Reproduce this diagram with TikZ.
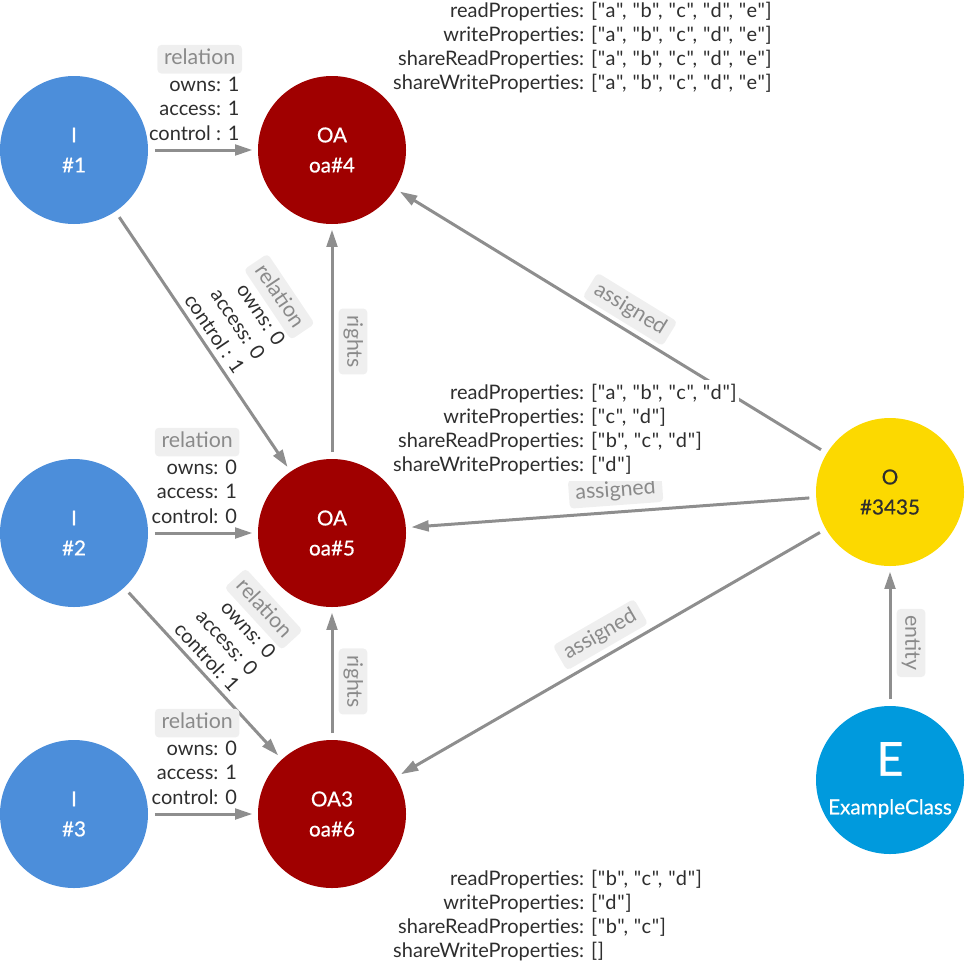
\documentclass[tikz,border=0pt]{standalone}
\usepackage{fontspec}
\usepackage{array}
\setmainfont{Lato}[Ligatures=TeXOff]
\usetikzlibrary{arrows.meta}
\definecolor{iblue}{HTML}{4C8EDA}
\definecolor{oared}{HTML}{A00000}
\definecolor{oyel}{HTML}{FCD900}
\definecolor{eblue}{HTML}{009ADD}
\definecolor{egray}{HTML}{8E8E8E}
\definecolor{rfill}{HTML}{EFEFEF}
\definecolor{rtext}{HTML}{8A8A8A}
\definecolor{ltext}{HTML}{2E2E2E}
\newcolumntype{V}{>{\addfontfeature{LetterSpace=3.5}}l}
\begin{document}
\begin{tikzpicture}[x=0.75pt,y=-0.75pt,
 circ/.style={circle,inner sep=0pt,minimum size=111pt,align=center,font=\fontsize{15.5}{22.5}\selectfont\addfontfeature{FakeBold=0.6}},
 inode/.style={circ,fill=iblue,text=white},
 oanode/.style={circ,fill=oared,text=white},
 arr/.style={draw=egray,line width=2.25pt,-{Triangle[length=13pt,width=8pt]},shorten <=5pt,shorten >=4pt},
 lbl/.style={text=ltext,align=right,inner sep=1pt,font=\fontsize{15}{18.5}\selectfont},
 rbox/.style={fill=rfill,text=rtext,rounded corners=3pt,inner xsep=5pt,inner ysep=3.5pt,text height=11.5pt,text depth=3pt,font=\fontsize{16}{18}\selectfont},
 prop/.style={anchor=base west,inner sep=2pt,fill=white,text=ltext,font=\fontsize{15}{18}\selectfont}]

\path[use as bounding box] (0,0) rectangle (966,964);

\node[inode] (i1) at (74,150) {I\\\#1};
\node[inode] (i2) at (74,533) {I\\\#2};
\node[inode] (i3) at (74,814) {I\\\#3};
\node[oanode] (oa4) at (332,150) {OA\\oa\#4};
\node[oanode] (oa5) at (332,533) {OA\\oa\#5};
\node[oanode] (oa6) at (332,814) {OA3\\oa\#6};
\node[circ,fill=oyel,text=ltext] (o) at (890,492) {O\\\#3435};
\node[circ,fill=eblue,text=white,font=\fontsize{15.5}{29}\selectfont\addfontfeature{FakeBold=0.6}] (e) at (890,780) {{\fontsize{35}{35}\selectfont E}\\ExampleClass};

\draw[arr] (i1) -- node[lbl,above=5pt,pos=.42] (l1) {owns: 1\\access: 1\\control : 1} (oa4);
\node[rbox,anchor=south east] (r1) at (l1.north east) {relation};

\draw[arr] (i1) -- node[lbl,sloped,above=3pt,pos=.5] (l2) {owns: 0\\access: 0\\control : 1} (oa5);
\node[rbox,rotate=-56.1,anchor=south east] (r2) at (l2.north east) {relation};

\draw[arr] (i2) -- node[lbl,above=5pt,pos=.42] (l3) {owns: 0\\access: 1\\control: 0} (oa5);
\node[rbox,anchor=south east] (r3) at (l3.north east) {relation};

\draw[arr] (i2) -- node[lbl,sloped,above=3pt,pos=.46] (l4) {owns: 0\\access: 0\\control: 1} (oa6);
\node[rbox,rotate=-47.4,anchor=south east] (r4) at (l4.north east) {relation};

\draw[arr] (i3) -- node[lbl,above=5pt,pos=.42] (l5) {owns: 0\\access: 1\\control: 0} (oa6);
\node[rbox,anchor=south east] (r5) at (l5.north east) {relation};

\draw[arr] (oa5) -- node[rbox,pos=.5,rotate=-90,anchor=south,outer sep=5pt] (g1) {rights} (oa4);
\draw[arr] (oa6) -- node[rbox,pos=.44,rotate=-90,anchor=south,outer sep=5pt] (g2) {rights} (oa5);
\draw[arr] (o) -- node[rbox,sloped,above=3pt,pos=.48] (a1) {assigned} (oa4);
\draw[arr] (o) -- node[rbox,sloped,above=4pt,pos=.485] (a2) {assigned} (oa5);
\draw[arr] (o) -- node[rbox,sloped,above=4pt,pos=.5] (a3) {assigned} (oa6);
\draw[arr] (e) -- node[rbox,pos=.45,rotate=-90,anchor=south,outer sep=5pt] (en) {entity} (o);

\node[prop] (p4) at (390.3,17) {\begin{tabular}[t]{@{}r@{: }V@{}}
readProperties & ["a", "b", "c", "d", "e"]\\
writeProperties & ["a", "b", "c", "d", "e"]\\
shareReadProperties & ["a", "b", "c", "d", "e"]\\
shareWriteProperties & ["a", "b", "c", "d", "e"]
\end{tabular}};
\node[prop] (p5) at (390.3,399) {\begin{tabular}[t]{@{}r@{: }V@{}}
readProperties & ["a", "b", "c", "d"]\\
writeProperties & ["c", "d"]\\
shareReadProperties & ["b", "c", "d"]\\
shareWriteProperties & ["d"]
\end{tabular}};
\node[prop] (p6) at (390.3,885) {\begin{tabular}[t]{@{}r@{: }V@{}}
readProperties & ["b", "c", "d"]\\
writeProperties & ["d"]\\
shareReadProperties & ["b", "c"]\\
shareWriteProperties & []
\end{tabular}};
\end{tikzpicture}
\end{document}
